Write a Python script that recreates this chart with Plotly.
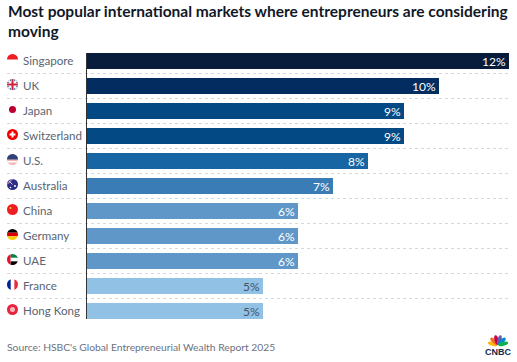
import base64
import plotly.graph_objects as go

countries = ["Singapore", "UK", "Japan", "Switzerland", "U.S.", "Australia", "China", "Germany", "UAE", "France", "Hong Kong"]
shares = [12, 10, 9, 9, 8, 7, 6, 6, 6, 5, 5]
bar_colors = ["#071d3b", "#032d60", "#034a84", "#034a84", "#1765a3", "#3a7cb5", "#5f98c8", "#5f98c8", "#5f98c8", "#92c1e6", "#92c1e6"]
label_colors = ["#ffffff"] * 9 + ["#44546a"] * 2
title_text = "Most popular international markets where entrepreneurs are considering<br>moving"
source_text = "Source: HSBC's Global Entrepreneurial Wealth Report 2025"

W, H = 517, 362
L, R, T, B = 87, 509, 53, 319
FONT = "Lato, 'Open Sans', sans-serif"

def svg(body):
    s = ('<svg xmlns="http://www.w3.org/2000/svg" viewBox="0 0 22 22" width="88" height="88">'
         '<defs><clipPath id="c"><circle cx="11" cy="11" r="11"/></clipPath></defs>'
         '<g clip-path="url(#c)">' + body + '</g></svg>')
    return "data:image/svg+xml;base64," + base64.b64encode(s.encode()).decode()

flags = [
    '<rect width="22" height="11" fill="#ee1c25"/>',
    '<rect width="22" height="22" fill="#2a3f87"/><path d="M0 0L22 22M22 0L0 22" stroke="#fff" stroke-width="4"/><path d="M11 0V22M0 11H22" stroke="#fff" stroke-width="7"/><path d="M11 0V22M0 11H22" stroke="#d0213d" stroke-width="4"/>',
    '<rect width="22" height="22" fill="#fff"/><circle cx="11" cy="11" r="7" fill="#bc002d"/>',
    '<rect width="22" height="22" fill="#f00000"/><path d="M11 5V17M5 11H17" stroke="#fff" stroke-width="4"/>',
    '<rect width="22" height="22" fill="#f4b5b5"/><rect y="14" width="22" height="3" fill="#fff"/><rect y="0" width="22" height="11" fill="#2f4178"/>',
    '<rect width="22" height="22" fill="#2b2d88"/><path d="M0 0L11 11M11 0L0 11" stroke="#f5c5cc" stroke-width="2"/><circle cx="16" cy="14" r="2" fill="#fff"/><circle cx="7" cy="17" r="1.6" fill="#fff"/>',
    '<rect width="22" height="22" fill="#ee1c25"/><circle cx="7" cy="8" r="2" fill="#ffde00"/>',
    '<rect width="22" height="7.4" fill="#000"/><rect y="7.4" width="22" height="7.3" fill="#dd0000"/><rect y="14.7" width="22" height="7.3" fill="#ffce00"/>',
    '<rect width="22" height="22" fill="#fff"/><rect x="7" width="15" height="7.4" fill="#00843d"/><rect x="7" y="14.7" width="15" height="7.3" fill="#000"/><rect width="7" height="22" fill="#e8112d"/>',
    '<rect width="22" height="22" fill="#fff"/><rect width="7.4" height="22" fill="#002395"/><rect x="14.7" width="7.3" height="22" fill="#ed2939"/>',
    '<rect width="22" height="22" fill="#e8233f"/><circle cx="11" cy="11" r="5" fill="#f7b8c0"/>',
]

feathers = ["#fdb913", "#f37021", "#cc004c", "#6460aa", "#0089d0", "#0db14b"]
peacock = ('<svg xmlns="http://www.w3.org/2000/svg" viewBox="0 0 32 18" width="128" height="72">'
           + "".join(f'<ellipse cx="16" cy="9" rx="2.9" ry="7.2" fill="{c}" transform="rotate({a} 16 16) translate(0 -1)"/>'
                     for c, a in zip(feathers, [-75, -45, -15, 15, 45, 75]))
           + '</svg>')
peacock_src = "data:image/svg+xml;base64," + base64.b64encode(peacock.encode()).decode()

px = lambda v: (v - L) / (R - L)
py = lambda v: (B - v) / (B - T)

fig = go.Figure(go.Bar(
    x=shares, y=countries, orientation="h", width=0.64,
    marker=dict(color=bar_colors, line_width=0),
    text=[f"{v}%" for v in shares], textposition="inside", insidetextanchor="end",
    textangle=0, constraintext="none",
    textfont=dict(family=FONT, size=12, color=label_colors),
    hoverinfo="skip",
))

shapes = [dict(type="line", xref="paper", yref="y", x0=px(7), x1=1, y0=i + 0.5, y1=i + 0.5,
               line=dict(color="#d8d8d8", width=1, dash="dot"), layer="below")
          for i in range(len(countries) - 1)]

images = [dict(source=svg(b), xref="paper", yref="y", x=px(7), y=i - 0.06, sizex=px(18) - px(7), sizey=0.44,
               xanchor="left", yanchor="middle", sizing="contain", layer="above")
          for i, b in enumerate(flags)]
images.append(dict(source=peacock_src, xref="paper", yref="paper", x=px(487), y=py(347), sizex=px(509) - px(487),
                   sizey=13 / (B - T), xanchor="left", yanchor="bottom", sizing="contain"))

annotations = [
    dict(text=title_text, xref="paper", yref="paper", x=px(6), y=py(0), xanchor="left", yanchor="top", align="left",
         showarrow=False, font=dict(family=FONT, size=15.5, color="#111827", weight=700)),
    dict(text=source_text, xref="paper", yref="paper", x=px(5), y=py(346.5), xanchor="left", yanchor="middle",
         showarrow=False, font=dict(family=FONT, size=10.3, color="#6b7280")),
    dict(text="<b>CNBC</b>", xref="paper", yref="paper", x=px(497.5), y=py(351.5), xanchor="center", yanchor="middle",
         showarrow=False, font=dict(family="Liberation Sans", size=9, color="#12284b")),
]
annotations += [dict(text=c, xref="paper", yref="y", x=px(21), y=i - 0.04, xanchor="left", yanchor="middle", showarrow=False,
                     font=dict(family=FONT, size=11.6, color="#5b6472"))
                for i, c in enumerate(countries)]

fig.update_layout(
    width=W, height=H, margin=dict(l=L, r=W - R, t=T, b=H - B, autoexpand=False),
    paper_bgcolor="white", plot_bgcolor="white", showlegend=False, bargap=0,
    shapes=shapes, images=images, annotations=annotations,
    xaxis=dict(range=[0, 12], visible=False),
    yaxis=dict(range=[10.32, -0.32], categoryorder="array", categoryarray=countries, showticklabels=False,
               ticks="", showgrid=False, zeroline=False, showline=True, linecolor="#333333", linewidth=1),
)
fig.write_html("out.html", config={"displayModeBar": False},
               post_script="document.body.style.margin='0';document.body.style.overflow='hidden';")
